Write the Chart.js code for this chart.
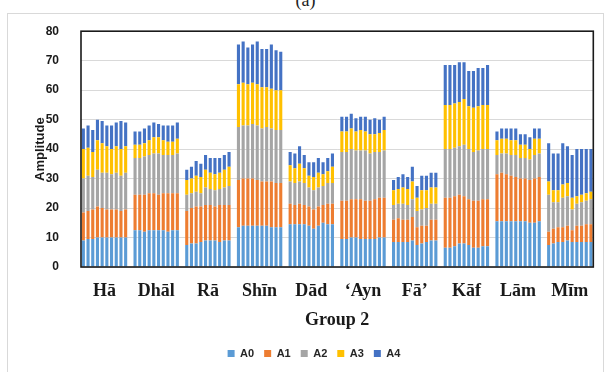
<!DOCTYPE html>
<html>
<head>
<meta charset="utf-8">
<script src="https://cdn.jsdelivr.net/npm/chart.js@4.4.0/dist/chart.umd.min.js"></script>
<style>
  html, body { margin: 0; padding: 0; background: #fff; overflow: hidden; }
  #cap { position: absolute; top: -10px; left: 0; width: 611px; text-align: center;
         font: 18px "Liberation Serif", serif; color: #222; }
  #box { position: absolute; left: 7px; top: 13px; width: 597px; height: 365px;
         border: 1px solid #d9d9d9; box-sizing: border-box; }
  #wrap { position: absolute; left: 1px; top: -12px; width: 596px; height: 370px; }
</style>
</head>
<body>
<div id="cap">(a)</div>
<div id="box"><div id="wrap"><canvas id="c"></canvas></div></div>
<script>
// 그룹 2: 글자별 10개 샘플, A0..A4 성분 (누적 막대)
const groups = ["Hā", "Dhāl", "Rā", "Shīn", "Dād", "‘Ayn", "Fā’", "Kāf", "Lām", "Mīm"];
const series = ["A0", "A1", "A2", "A3", "A4"];
const yTicks = [0, 10, 20, 30, 40, 50, 60, 70, 80];

const A0 = [
  9, 9.5, 9.5, 10, 10, 10, 10, 10, 10, 10,
  12.5, 12.5, 12, 12.5, 12.5, 12.5, 12.5, 12, 12.5, 12.5,
  7.5, 8, 8, 8.5, 9, 9, 9, 8.5, 9, 9,
  13.5, 14, 14, 14, 14, 14, 14, 13.5, 13.5, 13.5,
  14.5, 14.5, 14.5, 14.5, 14, 13, 14, 15, 14.5, 14.5,
  9.5, 9.5, 10, 10, 9.5, 9.5, 9.5, 9.5, 10, 10,
  8.5, 8.5, 8.5, 8.5, 9, 7.5, 8, 8.5, 9, 9,
  6.5, 6.5, 7, 8, 8, 7.5, 6.5, 6.5, 7, 7,
  15.5, 15.5, 15.5, 15.5, 15.5, 15.5, 15.5, 15, 15, 15.5,
  7.5, 8, 8.5, 8.5, 9, 8.5, 8.5, 8.5, 8.5, 8.5
];
const A1 = [
  9.5, 9.5, 10, 10.5, 10, 9.5, 9.5, 9.5, 9, 9.5,
  12, 12, 12.5, 12.5, 12.5, 12, 12.5, 13, 12.5, 12.5,
  11.5, 12, 12.5, 12, 12, 12, 11.5, 12.5, 12, 12,
  16, 16, 16, 16, 15.5, 15, 15, 15.5, 15, 15,
  7, 6.5, 7, 6.5, 6.5, 6.5, 6.5, 6, 7, 7,
  13, 13, 13, 13, 13.5, 13, 13, 13.5, 13.5, 13.5,
  7.5, 8, 7.5, 7.5, 8, 6, 6, 5.5, 7, 7,
  17, 17, 17, 16.5, 16, 15.5, 16, 16, 16, 16,
  16, 16.5, 16, 15.5, 15, 14.5, 14.5, 14.5, 15, 15,
  4.5, 5, 5, 5, 5, 4, 5.5, 5.5, 6, 6
];
const A2 = [
  11.5, 12, 11, 12.5, 12, 12.5, 12, 12.5, 12, 12.5,
  12.5, 12.5, 13, 13, 13.5, 14, 13, 13, 13, 13.5,
  5.5, 5, 5, 4.5, 6, 5.5, 5.5, 5.5, 6, 6.5,
  18, 18, 18, 18.5, 18.5, 18, 18.5, 18, 18, 18,
  7.5, 7.5, 7.5, 7.5, 6.5, 6.5, 6.5, 6.5, 7, 7,
  16.5, 16.5, 17, 16.5, 16.5, 17, 16, 16, 15.5, 16,
  5, 5, 5.5, 5, 6, 5.5, 5.5, 6, 5.5, 5.5,
  16.5, 16.5, 16.5, 16.5, 17.5, 17, 16.5, 17, 17, 17,
  6.5, 6.5, 7, 7, 7.5, 7, 7, 7, 8, 8,
  12.5, 9, 8.5, 10, 10, 7, 7.5, 8, 8, 8.5
];
const A3 = [
  10, 9.5, 8.5, 10, 10, 9, 8.5, 9, 9, 9,
  4.5, 4.5, 4.5, 5, 5.5, 5.5, 5, 4.5, 4.5, 5,
  5, 5, 5.5, 5.5, 6, 5.5, 5.5, 5.5, 6, 6.5,
  14.5, 14.5, 14, 14, 14, 14, 13.5, 13.5, 13.5, 13.5,
  5.5, 5, 6, 5, 4, 4.5, 5, 4, 4, 5.5,
  7, 7, 7, 6.5, 7, 6.5, 6.5, 6, 6.5, 7,
  5, 5, 5.5, 5.5, 6, 4.5, 6.5, 6, 5.5, 5.5,
  15, 15, 15, 15, 15.5, 14.5, 15, 15, 15, 15,
  5, 5, 5, 5, 5, 4.5, 4.5, 3.5, 5.5, 5,
  4.5, 4, 4, 4.5, 4.5, 4, 2.5, 2.5, 2.5, 2.5
];
const A4 = [
  7, 7.5, 7.5, 7, 7.5, 7, 8, 8, 9.5, 8,
  4.5, 4.5, 5, 5, 5, 4.5, 5, 5.5, 5.5, 5.5,
  3.5, 4, 5, 4.5, 5, 5, 5.5, 5, 5, 5,
  13.5, 14, 12.5, 13, 14.5, 13, 13, 15, 13.5, 13,
  4.5, 5, 6, 4.5, 4.5, 5, 5, 4, 4.5, 4.5,
  5, 5, 5, 4.5, 4.5, 5, 5, 5.5, 4.5, 4.5,
  3.5, 4, 4.5, 4, 5, 4, 5, 5, 5, 5,
  13.5, 13.5, 13, 13.5, 12.5, 12, 12.5, 13, 12.5, 13.5,
  3, 3.5, 3.5, 4, 4, 3.5, 3.5, 4, 3.5, 3.5,
  13, 12.5, 12.5, 14, 12.5, 14.5, 16, 15.5, 15, 14.5
];

const colors = ["#5B9BD5", "#ED7D31", "#A5A5A5", "#FFC000", "#4472C4"];
const PER = 10;

// 그룹 사이 빈 칸 하나씩 넣어서 평탄한 카테고리 축 구성
const labels = [];
function spread(arr) {
  const out = [];
  groups.forEach((g, gi) => {
    if (gi > 0) out.push(null);
    for (let k = 0; k < PER; k++) out.push(arr[gi * PER + k]);
  });
  return out;
}
groups.forEach((g, gi) => {
  if (gi > 0) labels.push("");
  for (let k = 0; k < PER; k++) labels.push(k === 4 ? g : "");
});

const datasets = [A0, A1, A2, A3, A4].map((arr, i) => ({
  label: series[i],
  data: spread(arr),
  backgroundColor: colors[i],
  borderWidth: 0,
  barPercentage: 0.66,
  categoryPercentage: 1
}));

// 플롯 영역 테두리
const frame = {
  id: "frame",
  afterDatasetsDraw(chart) {
    const a = chart.chartArea, ctx = chart.ctx;
    ctx.save();
    ctx.strokeStyle = "#1a1a1a";
    ctx.lineWidth = 1.6;
    ctx.strokeRect(a.left, a.top, a.right - a.left, a.bottom - a.top);
    ctx.restore();
  }
};

const slot = 514 / labels.length;

new Chart(document.getElementById("c").getContext("2d"), {
  type: "bar",
  data: { labels, datasets },
  plugins: [frame],
  options: {
    responsive: true,
    maintainAspectRatio: false,
    animation: false,
    layout: { padding: { top: 5, right: 10, bottom: 3, left: 24 } },
    plugins: {
      tooltip: { enabled: false },
      legend: {
        position: "bottom",
        labels: {
          boxWidth: 7, boxHeight: 7, padding: 10, color: "#262626",
          font: { family: "'Liberation Sans', Arial, sans-serif", size: 11, weight: "bold" }
        }
      }
    },
    scales: {
      x: {
        stacked: true,
        grid: { display: false, drawTicks: false },
        border: { display: false },
        afterFit: s => { s.height = 71; },
        ticks: {
          autoSkip: false, maxRotation: 0, minRotation: 0, padding: 14,
          labelOffset: slot / 2, color: "#1a1a1a",
          font: { family: "'Liberation Serif', 'Times New Roman', serif", size: 18, weight: "bold" }
        },
        title: {
          display: true, text: "Group 2", color: "#1a1a1a",
          padding: { top: 0, bottom: 7 },
          font: { family: "'Liberation Serif', 'Times New Roman', serif", size: 18, weight: "bold" }
        }
      },
      y: {
        stacked: true,
        min: yTicks[0], max: yTicks[yTicks.length - 1],
        afterFit: s => { s.width = 48; },
        afterBuildTicks: s => { s.ticks = yTicks.map(v => ({ value: v })); },
        grid: { color: "#d9d9d9", drawTicks: false },
        border: { display: false },
        ticks: {
          padding: 22, color: "#1a1a1a",
          font: { family: "'Liberation Sans', Arial, sans-serif", size: 12, weight: "bold" }
        },
        title: {
          display: true, text: "Amplitude", color: "#1a1a1a",
          padding: { top: 0, bottom: 0 },
          font: { family: "'Liberation Sans', Arial, sans-serif", size: 13, weight: "bold" }
        }
      }
    }
  }
});
</script>
</body>
</html>
